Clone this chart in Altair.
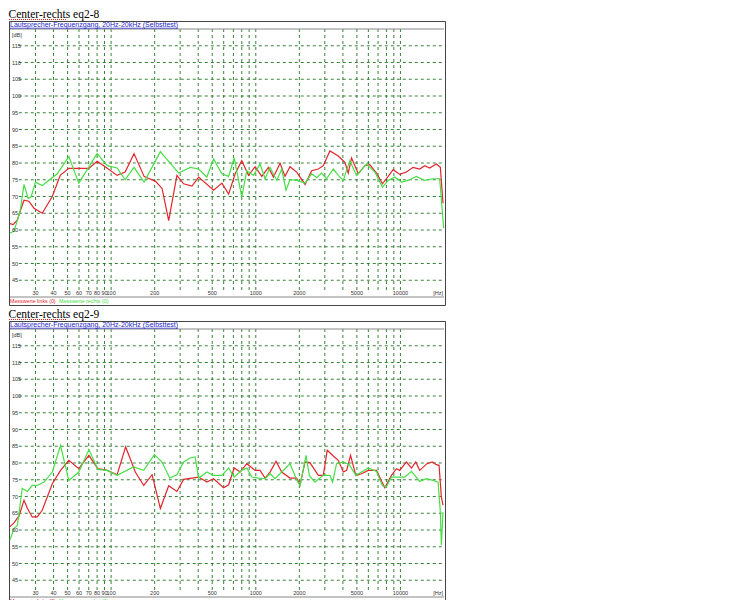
import altair as alt
import pandas as pd

# --- data ---
titles = ["Center-rechts eq2-8", "Center-rechts eq2-9"]
subtitle = "Lautsprecher-Frequenzgang, 20Hz-20kHz (Selbsttest)"
legend_left = "Messwerte links (0)"
legend_right = "Messwerte rechts (0)"

# eq2-8, left channel (red)
f_links_8 = [20, 21, 22.5, 23.5, 25, 27, 29.3, 33.4, 39.2, 44.5, 51, 59.8, 70.2, 80, 91,
             110, 125, 144, 169, 177, 202, 225, 250, 285, 317, 362, 403, 511, 583, 649,
             720, 800, 891, 989, 1100, 1223, 1325, 1472, 1592, 1725, 1918, 2190, 2433,
             2705, 2929, 3254, 3718, 4129, 4357, 4591, 5109, 5675, 6143, 6830, 7510,
             8230, 8905, 9890, 10990, 12230, 13580, 14710, 15920, 17720, 18870, 19690]
db_links_8 = [61.9, 61.6, 63, 65.6, 68.9, 68.6, 66.5, 65, 70, 76.3, 78.4, 78.4, 78.4, 80.5, 78.9,
              76.3, 77.3, 82.8, 76, 75.6, 74.6, 72.4, 62.8, 76.3, 73.8, 73.1, 75.8, 71.9, 74, 70.7,
              76.8, 80.7, 76.3, 78.9, 76, 78.7, 75.8, 79.9, 76, 78.9, 77.3, 73.6, 77.7,
              78.2, 79.2, 83.6, 82.1, 80.2, 77, 81.5, 76.8, 79.2, 79.5, 77, 73.8,
              76, 78, 76.6, 77.3, 78.7, 78.2, 79.2, 78.5, 79.7, 78.7, 68]

# eq2-8, right channel (green)
f_rechts_8 = [20, 21.3, 23.5, 25, 26.7, 28, 30, 33.4, 42.4, 51, 59.8, 80, 94, 110, 125,
              144, 169, 219, 293, 352, 403, 459, 511, 583, 649, 709, 800, 867, 964, 1071,
              1159, 1255, 1396, 1511, 1618, 1725, 1918, 2190, 2433, 2635, 2851, 3087, 3434,
              3718, 4025, 4467, 4972, 5833, 6652, 7510, 8230, 9140, 10160, 11300, 12890,
              14710, 16820, 18670, 19900]
db_rechts_8 = [59.1, 59.6, 65.6, 73.6, 69.4, 69.9, 74.3, 73.3, 76.8, 81.9, 74, 82.8, 79.2, 78.5, 75,
               78.7, 74.3, 83.4, 77, 78.7, 78.2, 75.8, 81.2, 76.8, 76, 81.5, 69.9, 77.7, 76.3, 79.7,
               75.3, 78.7, 74.8, 78.2, 71.9, 75, 74.8, 74, 76.8, 75.6, 77, 75.3, 78.2,
               76.3, 74.8, 80.7, 76.3, 79.7, 77.3, 72.8, 74.8, 75.8, 74.3, 74.8, 76,
               74.8, 75.3, 75.3, 60.6]

# eq2-9, left channel (red)
f_links_9 = [20, 21.3, 23.1, 25, 26.4, 28.5, 30.9, 33.4, 39.2, 44.7, 51, 59.8, 70.2, 81, 94,
             110, 126, 147, 168, 192, 219, 250, 285, 317, 362, 403, 459, 511, 599, 649,
             709, 780, 867, 989, 1071, 1159, 1255, 1380, 1511, 1725, 1918, 2023, 2190, 2367,
             2705, 2929, 3119, 3434, 3718, 4025, 4246, 4519, 4916, 5383, 5990, 6830, 7793,
             8670, 9380, 9890, 10990, 11920, 12760, 13580, 15270, 16620, 17720, 18490,
             19170, 19690]
db_links_9 = [61, 62.1, 64.2, 68.9, 66.4, 63.9, 63.9, 65.9, 73.8, 77.8, 80.8, 78.3, 82.3, 78.3, 77.8,
              76.5, 84.8, 77.3, 73.3, 76.5, 66.4, 73.2, 71.5, 75.1, 75.5, 75.8, 74.3, 75.3, 72.6, 73.5,
              78.5, 77.3, 79.8, 77.8, 77.8, 75.5, 77.3, 80.5, 77.3, 75.5, 75.5, 73.5, 80.3, 80.1,
              76.3, 76.3, 83.8, 82.1, 80.8, 77.3, 77.8, 82.3, 76.3, 76.8, 77.8, 77.8, 72.6,
              76.3, 78.3, 77.8, 80.3, 78.5, 80.3, 77.8, 79.8, 80.3, 79.5, 79.3,
              69.9, 67.4]

# eq2-9, right channel (green)
f_rechts_9 = [20, 21.3, 22.5, 24.3, 26.4, 28.5, 30.9, 34.4, 39.2, 44.7, 51, 59.8, 70.2, 81, 94,
              110, 143, 168, 199, 225, 254, 285, 317, 352, 381, 403, 459, 511, 583, 649,
              709, 800, 867, 938, 1044, 1159, 1255, 1358, 1511, 1725, 1918, 2023, 2225, 2345,
              2563, 2929, 3254, 3394, 3620, 4025, 4430, 4916, 5383, 5990, 6830, 7510, 8000,
              8670, 9640, 10710, 11920, 13580, 15100, 16820, 18200, 18870, 19170, 19690]
db_rechts_9 = [57, 60.4, 61.4, 72.4, 71.5, 73.3, 73.3, 74.3, 77.3, 85.2, 74.8, 77.3, 84, 78.1, 77.8,
               76.3, 78.8, 77.8, 82.5, 80.3, 75.5, 76.5, 80.3, 81.5, 81.8, 75.5, 77.3, 76.3, 76.3, 78.5,
               75.8, 77.8, 78.5, 75.8, 75.5, 75.3, 76.8, 75.3, 77.3, 79.8, 75, 73.2, 82.3, 76.3,
               74.3, 76.3, 76.3, 74.3, 79.8, 80.3, 79.5, 76.3, 77.3, 78.5, 77.5, 73.2, 72.9,
               75.8, 75.8, 75.8, 77.5, 74.5, 75.3, 74.8, 74.3, 65.4, 55.5, 65.4]

# grid and tick labels
x_grid = [30, 40, 50, 60, 70, 80, 90, 100, 200, 300, 400, 500, 600, 700, 800, 900,
          1000, 2000, 3000, 4000, 5000, 6000, 7000, 8000, 9000, 10000]
y_grid = [45, 50, 55, 60, 65, 70, 75, 80, 85, 90, 95, 100, 105, 110, 115]
x_label_pos = [30, 40, 50, 60, 70, 80, 90, 100, 200, 500, 1000, 2000, 5000, 10000]
x_label_txt = ["30", "40", "50", "60", "70", "80", "90", "100", "200", "500",
               "1000", "2000", "5000", "10000"]
y_label_pos = [118.3] + y_grid
y_label_txt = ["[dB]"] + [str(v) for v in y_grid]

RED = "#e4252d"
GREEN = "#46e046"
GRID = "#227522"
SANS = "Liberation Sans"

# box is 436 x 284 px, the plot area (20 Hz..20 kHz, 40..120 dB) sits inside it
BOX_H = 284
xscale = alt.Scale(type="log", domain=[20, 20000], range=[1, 435])
yscale = alt.Scale(domain=[40, 120], range=[276, 8], zero=False, nice=False)


def panel(title, f_l, db_l, f_r, db_r):
    series = pd.concat([
        pd.DataFrame({"f": f_l, "db": db_l, "kanal": "links"}),
        pd.DataFrame({"f": f_r, "db": db_r, "kanal": "rechts"}),
    ])
    x_enc = alt.X("f:Q", scale=xscale, axis=None)
    y_enc = alt.Y("db:Q", scale=yscale, axis=None)

    vgrid = alt.Chart(pd.DataFrame({"f": x_grid, "db": 120, "db2": 42})).mark_rule(
        color=GRID, strokeDash=[3, 3], strokeWidth=0.9
    ).encode(x=x_enc, y=y_enc, y2="db2:Q")

    # horizontal grid starts right of the dB labels
    hgrid = alt.Chart(pd.DataFrame({"db": y_grid, "f": 23, "f2": 20000})).mark_rule(
        color=GRID, strokeDash=[3, 3], strokeWidth=0.9
    ).encode(y=y_enc, x=x_enc, x2="f2:Q")

    # thin frame lines at the top and bottom edge of the plot area
    frame = alt.Chart(pd.DataFrame({"db": [40, 120], "f": 20, "f2": 20000})).mark_rule(
        color="#888888", strokeWidth=1
    ).encode(y=y_enc, x=x_enc, x2="f2:Q")

    lines = alt.Chart(series).mark_line(strokeWidth=1.2, clip=True).encode(
        x=x_enc, y=y_enc,
        color=alt.Color("kanal:N", scale=alt.Scale(domain=["links", "rechts"],
                                                   range=[RED, GREEN]), legend=None)
    )

    ylabels = alt.Chart(pd.DataFrame({"db": y_label_pos, "t": y_label_txt})).mark_text(
        align="left", baseline="middle", font=SANS, fontSize=5.5, color="#333333"
    ).encode(y=y_enc, x=alt.value(3), text="t:N")

    xlabels = alt.Chart(pd.DataFrame({"f": x_label_pos, "t": x_label_txt})).mark_text(
        align="center", baseline="middle", font=SANS, fontSize=5.5, color="#333333"
    ).encode(x=x_enc, y=alt.value(271.5), text="t:N")

    hz = alt.Chart(pd.DataFrame({"t": ["[Hz]"]})).mark_text(
        align="right", baseline="middle", font=SANS, fontSize=5.5, color="#333333"
    ).encode(x=alt.value(434), y=alt.value(271.5), text="t:N")

    sub = alt.Chart(pd.DataFrame({"t": [subtitle]})).mark_text(
        align="left", baseline="middle", font=SANS, fontSize=7, color="#2424cc"
    ).encode(x=alt.value(1), y=alt.value(3.8), text="t:N")

    sub_line = alt.Chart(pd.DataFrame({"t": [subtitle]})).mark_rule(
        color="#2424cc", strokeWidth=0.7
    ).encode(x=alt.value(1), x2=alt.value(169), y=alt.value(7.2))

    spell = alt.Chart(pd.DataFrame({"t": [title]})).mark_rule(
        color="#e02020", strokeWidth=1, strokeDash=[1, 1]
    ).encode(x=alt.value(0), x2=alt.value(57), y=alt.value(-1.5))

    leg_l = alt.Chart(pd.DataFrame({"t": [legend_left]})).mark_text(
        align="left", baseline="middle", font=SANS, fontSize=5.3, color=RED
    ).encode(x=alt.value(1), y=alt.value(279.5), text="t:N")

    leg_r = alt.Chart(pd.DataFrame({"t": [legend_right]})).mark_text(
        align="left", baseline="middle", font=SANS, fontSize=5.3, color=GREEN
    ).encode(x=alt.value(50), y=alt.value(279.5), text="t:N")

    return alt.layer(
        hgrid, vgrid, frame, lines, ylabels, xlabels, hz, sub, sub_line, spell, leg_l, leg_r
    ).properties(
        width=436,
        height=BOX_H,
        title=alt.TitleParams(title, anchor="start", font="Liberation Serif",
                              fontSize=11.5, fontWeight="normal", color="black", offset=-1),
    )


chart = alt.vconcat(
    panel(titles[0], f_links_8, db_links_8, f_rechts_8, db_rechts_8),
    panel(titles[1], f_links_9, db_links_9, f_rechts_9, db_rechts_9),
    spacing=2,
).properties(padding=0).configure_view(stroke="#444444", strokeWidth=1)

chart.save("out.html", embed_options={"renderer": "svg", "actions": False})
